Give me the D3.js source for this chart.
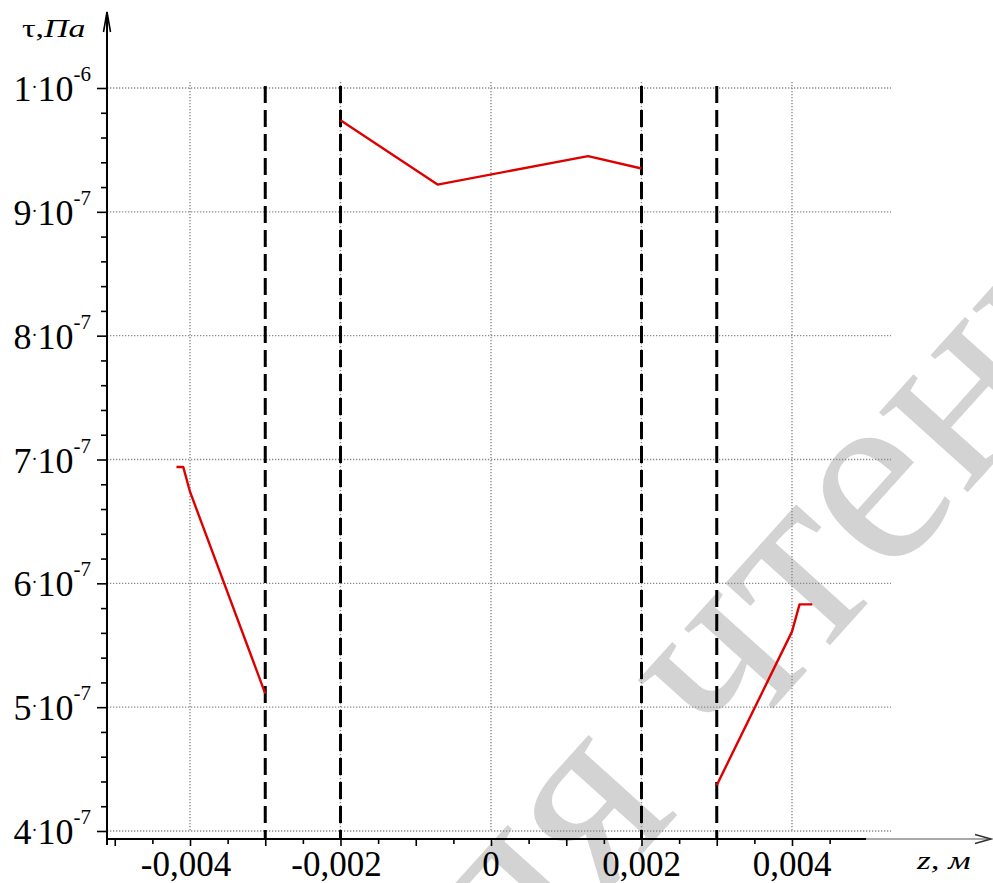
<!DOCTYPE html>
<html>
<head>
<meta charset="utf-8">
<script src="https://cdn.jsdelivr.net/npm/d3@7/dist/d3.min.js"></script>
<style>
  html, body { margin: 0; padding: 0; background: #fff; }
  svg { display: block; }
</style>
</head>
<body>
<svg id="chart" width="993" height="883"></svg>
<script>
// Shear stress τ along z: three separate branches
const zBranch1 = [-0.00418, -0.00409, -0.004, -0.003];
const tauBranch1 = [6.94e-7, 6.94e-7, 6.74e-7, 5.11e-7];

const zBranch2 = [-0.002, -0.00071, 0.00129, 0.002];
const tauBranch2 = [9.74e-7, 9.22e-7, 9.45e-7, 9.35e-7];

const zBranch3 = [0.003, 0.004, 0.0041, 0.00427];
const tauBranch3 = [4.37e-7, 5.61e-7, 5.83e-7, 5.83e-7];

// Layer boundaries (dashed)
const boundaries = [-0.003, -0.002, 0.002, 0.003];

// Axis ticks and labels
const xLabelValues = [-0.004, -0.002, 0, 0.002, 0.004];
const xLabelText = ["-0,004", "-0,002", "0", "0,002", "0,004"];
const xGridValues = [-0.004, -0.002, 0, 0.002, 0.004];
const yTickValues = [4e-7, 5e-7, 6e-7, 7e-7, 8e-7, 9e-7, 1e-6];
const yTickMantissa = ["4", "5", "6", "7", "8", "9", "1"];
const yTickExponent = ["-7", "-7", "-7", "-7", "-7", "-7", "-6"];

const SERIF = "'Liberation Serif', 'Times New Roman', Times, 'DejaVu Serif', serif";

const svg = d3.select("#chart").attr("font-family", SERIF);

const x = d3.scaleLinear().domain([-0.005, 0.005]).range([114.75, 867.25]);
const y = d3.scaleLinear().domain([4e-7, 1e-6]).range([831, 88]);

const axisX = 107, axisY = 839;

// Watermark behind the plot
svg.append("text")
  .attr("transform", "translate(425,1095) rotate(-48)")
  .attr("font-family", SERIF)
  .attr("font-size", 260)
  .attr("fill", "#d3d3d3")
  .text("для чтения");

// Dotted grid
const grid = svg.append("g")
  .attr("stroke", "#8a8a8a")
  .attr("stroke-width", 1.4)
  .attr("stroke-dasharray", "1.3,1.7")
  .attr("fill", "none");

grid.selectAll("line.h").data(yTickValues).join("line")
  .attr("class", "h")
  .attr("x1", axisX).attr("x2", 891)
  .attr("y1", d => y(d)).attr("y2", d => y(d));

grid.selectAll("line.v").data(xGridValues).join("line")
  .attr("class", "v")
  .attr("x1", d => x(d)).attr("x2", d => x(d))
  .attr("y1", 82).attr("y2", y(4e-7));

// Dashed boundaries
svg.append("g").selectAll("line").data(boundaries).join("line")
  .attr("x1", d => x(d)).attr("x2", d => x(d))
  .attr("y1", 86).attr("y2", axisY)
  .attr("stroke", "#000")
  .attr("stroke-width", 3)
  .attr("stroke-dasharray", "17,7");

// Curves
const line = d3.line().x(d => x(d[0])).y(d => y(d[1]));
const branches = [
  d3.zip(zBranch1, tauBranch1),
  d3.zip(zBranch2, tauBranch2),
  d3.zip(zBranch3, tauBranch3)
];
svg.append("g").selectAll("path").data(branches).join("path")
  .attr("d", line)
  .attr("fill", "none")
  .attr("stroke", "#dd0000")
  .attr("stroke-width", 2.4)
  .attr("stroke-linejoin", "round");

// X axis ticks
const xMinorTicks = d3.range(-10, 10).map(i => i * 0.0005).filter(v => Math.abs(Math.round(v * 1000) - v * 1000) > 1e-9);
const xMajorTicks = d3.range(-5, 5).map(i => i * 0.001);

const gxMinor = svg.append("g").attr("transform", `translate(0,${axisY})`)
  .call(d3.axisBottom(x).tickValues(xMinorTicks).tickSize(5).tickFormat(""));
const gxMajor = svg.append("g").attr("transform", `translate(0,${axisY})`)
  .call(d3.axisBottom(x).tickValues(xMajorTicks).tickSize(7).tickFormat(""));
[gxMinor, gxMajor].forEach(g => {
  g.select(".domain").remove();
  g.selectAll(".tick line").attr("stroke", "#000").attr("stroke-width", 1.6);
});

// Y axis ticks
const yMinorTicks = d3.range(20, 51).map(i => i * 2e-8).filter(v => Math.abs(Math.round(v * 1e7) - v * 1e7) > 1e-6);
const gyMinor = svg.append("g").attr("transform", `translate(${axisX},0)`)
  .call(d3.axisLeft(y).tickValues(yMinorTicks).tickSize(6).tickFormat(""));
const gyMajor = svg.append("g").attr("transform", `translate(${axisX},0)`)
  .call(d3.axisLeft(y).tickValues(yTickValues).tickSize(10).tickFormat(""));
[gyMinor, gyMajor].forEach(g => {
  g.select(".domain").remove();
  g.selectAll(".tick line").attr("stroke", "#000").attr("stroke-width", 1.6);
});

// Axis lines with arrows
svg.append("line")
  .attr("x1", axisX).attr("x2", axisX).attr("y1", 845).attr("y2", 12)
  .attr("stroke", "#000").attr("stroke-width", 2);
svg.append("path")
  .attr("d", `M${axisX - 3.5},32 L${axisX},12 L${axisX + 3.5},32`)
  .attr("fill", "none").attr("stroke", "#000").attr("stroke-width", 1.6);

svg.append("line")
  .attr("x1", axisX).attr("x2", 866).attr("y1", axisY).attr("y2", axisY)
  .attr("stroke", "#000").attr("stroke-width", 2);
svg.append("line")
  .attr("x1", 866).attr("x2", 991).attr("y1", axisY).attr("y2", axisY)
  .attr("stroke", "#555").attr("stroke-width", 1.2);
svg.append("path")
  .attr("d", `M975,834.5 L991,${axisY} L975,843.5`)
  .attr("fill", "none").attr("stroke", "#333").attr("stroke-width", 1.4);

// Y tick labels: m·10^e
const yLabels = svg.append("g").attr("fill", "#000");
yTickValues.forEach((v, i) => {
  const t = yLabels.append("text")
    .attr("x", 91).attr("y", y(v) + 13)
    .attr("text-anchor", "end")
    .attr("font-family", SERIF)
    .attr("font-size", 36);
  t.append("tspan").text(yTickMantissa[i]);
  t.append("tspan").attr("font-size", 18).attr("dy", -8).text("·");
  t.append("tspan").attr("dy", 8).text("10");
  t.append("tspan").attr("font-size", 21).attr("dy", -20).text(yTickExponent[i]);
});

// X tick labels
svg.append("g").selectAll("text").data(xLabelValues).join("text")
  .attr("x", d => x(d) - (d < 0 ? 4 : 0))
  .attr("y", 876)
  .attr("text-anchor", "middle")
  .attr("font-family", SERIF)
  .attr("font-size", 35)
  .text((d, i) => xLabelText[i]);

// Axis titles
const yTitle = svg.append("text")
  .attr("transform", "translate(22,37) scale(1.3,1)")
  .attr("font-family", SERIF)
  .attr("font-size", 26);
yTitle.append("tspan").text("τ,");
yTitle.append("tspan").attr("font-style", "italic").text("Па");

svg.append("text")
  .attr("transform", "translate(917,869) scale(1.35,1)")
  .attr("font-family", SERIF)
  .attr("font-size", 26)
  .attr("font-style", "italic")
  .text("z, м");
</script>
</body>
</html>
